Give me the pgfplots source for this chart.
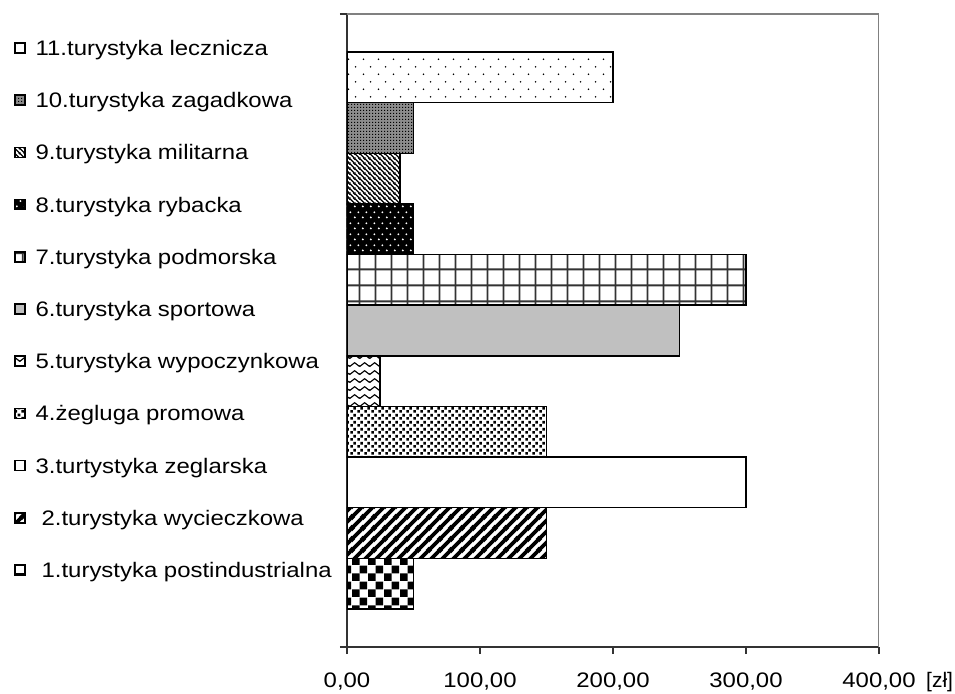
\documentclass[border=0pt]{standalone}
\usepackage{fontspec}
\setmainfont{Liberation Sans}[FakeStretch=1.14]
\newfontfamily\zlfont{Liberation Sans}
\usepackage{pgfplots}
\pgfplotsset{compat=1.18}
\usetikzlibrary{patterns.meta}

\tikzdeclarepattern{name=pChecker, type=uncolored, bottom left={(0pt,0pt)}, top right={(16pt,16pt)}, tile size={(16pt,16pt)},
  code={\fill (0pt,0pt) rectangle (8pt,8pt); \fill (8pt,8pt) rectangle (16pt,16pt);}}
\tikzdeclarepattern{name=pNEThick, type=uncolored, bottom left={(0pt,0pt)}, top right={(11pt,11pt)}, tile size={(11pt,11pt)},
  code={\draw[line width=4pt] (-2pt,-2pt)--(13pt,13pt); \draw[line width=4pt] (-2pt,9pt)--(2pt,13pt); \draw[line width=4pt] (9pt,-2pt)--(13pt,2pt);}}
\tikzdeclarepattern{name=pConfetti, type=uncolored, bottom left={(0pt,0pt)}, top right={(7pt,7pt)}, tile size={(7pt,7pt)},
  code={\fill (0.3pt,0.3pt) rectangle (3.3pt,3.3pt); \fill (3.8pt,3.8pt) rectangle (6.8pt,6.8pt);}}
\tikzdeclarepattern{name=pZigzag, type=uncolored, bottom left={(0pt,0pt)}, top right={(10pt,7.5pt)}, tile size={(10pt,7.5pt)},
  code={\draw[line width=1.2pt] (-5pt,5.6pt)--(0pt,1.8pt)--(5pt,5.6pt)--(10pt,1.8pt)--(15pt,5.6pt);}}
\tikzdeclarepattern{name=pGrid, type=uncolored, bottom left={(0pt,0pt)}, top right={(16pt,16pt)}, tile size={(16pt,16pt)},
  code={\draw[line width=2pt] (8pt,-1pt)--(8pt,17pt); \draw[line width=2pt] (-1pt,8pt)--(17pt,8pt);}}
\tikzdeclarepattern{name=pDotsDense, type=uncolored, bottom left={(0pt,0pt)}, top right={(7.5pt,11pt)}, tile size={(7.5pt,11pt)},
  code={\fill (1.9pt,2.75pt) circle (1.1pt); \fill (5.65pt,8.25pt) circle (1.1pt);}}
\tikzdeclarepattern{name=pNWThin, type=uncolored, bottom left={(0pt,0pt)}, top right={(5pt,5pt)}, tile size={(5pt,5pt)},
  code={\draw[line width=1.3pt] (-1pt,6pt)--(6pt,-1pt); \draw[line width=1.3pt] (-1pt,1pt)--(1pt,-1pt); \draw[line width=1.3pt] (4pt,6pt)--(6pt,4pt);}}
\tikzdeclarepattern{name=pFine, type=uncolored, bottom left={(0pt,0pt)}, top right={(3pt,3pt)}, tile size={(3pt,3pt)},
  code={\fill (0pt,0pt) rectangle (1.5pt,1.5pt);}}
\tikzdeclarepattern{name=pSparse, type=uncolored, bottom left={(0pt,0pt)}, top right={(15pt,15.4pt)}, tile size={(15pt,15.4pt)},
  code={\fill (3.75pt,3.85pt) circle (0.9pt); \fill (11.25pt,11.55pt) circle (0.9pt);}}

\pgfplotsset{
  mybar/.style={xbar, bar width=1, bar shift=0pt, draw=black, line width=1.5pt},
}

\begin{document}
\begin{tikzpicture}
\path[use as bounding box] (-347pt,-46pt) rectangle (608pt,647pt);
\begin{axis}[
  width=532pt, height=633pt, scale only axis,
  at={(0pt,0pt)}, anchor=south west,
  xbar,
  xmin=0, xmax=400, ymin=-0.25, ymax=12.25,
  axis x line*=bottom, axis y line*=left,
  axis line style={black!80, line width=1.6pt},
  xtick={0,100,200,300,400},
  ytick={-0.25,12.25}, yticklabels={},
  tick align=outside, major tick length=7pt,
  tick style={black!80, line width=1.2pt},
  xticklabel style={font=\fontsize{21pt}{25pt}\selectfont, anchor=base, inner sep=0pt, yshift=-33pt},
  xticklabel={\pgfmathprintnumber[fixed, fixed zerofill, precision=2, use comma, 1000 sep={}, assume math mode=true]{\tick}},
  xlabel={[zł]},
  xlabel style={at={(axis description cs:1,0)}, anchor=base west, xshift=47pt, yshift=-40pt, inner sep=0pt, font=\zlfont\fontsize{21pt}{25pt}\selectfont},
  reverse legend,
  legend image code/.code={\draw[#1, line width=1.6pt] (0.5pt,2.5pt) rectangle (10.5pt,12.5pt);},
  legend style={at={(axis description cs:-0.6259,0.958)}, anchor=north west, draw=none, fill=none,
    inner sep=0pt, outer sep=0pt, row sep=33.2pt, column sep=10pt,
    font=\fontsize{21pt}{25pt}\selectfont,
    nodes={inner sep=0pt, text height=15pt, text depth=4pt, anchor=base west}},
  legend cell align=left,
]
\addplot[mybar, fill=white, postaction={pattern=pChecker}] coordinates {(50,1)};
\addlegendentry{\hspace{6pt}1.turystyka postindustrialna}
\addplot[mybar, fill=white, postaction={pattern=pNEThick}] coordinates {(150,2)};
\addlegendentry{\hspace{6pt}2.turystyka wycieczkowa}
\addplot[mybar, fill=white] coordinates {(300,3)};
\addlegendentry{3.turtystyka zeglarska}
\addplot[mybar, fill=white, postaction={pattern=pConfetti}] coordinates {(150,4)};
\addlegendentry{4.żegluga promowa}
\addplot[mybar, fill=white, postaction={pattern=pZigzag}] coordinates {(25,5)};
\addlegendentry{5.turystyka wypoczynkowa}
\addplot[mybar, fill={rgb,255:red,192;green,192;blue,192}] coordinates {(250,6)};
\addlegendentry{6.turystyka sportowa}
\addplot[mybar, fill=white, postaction={pattern=pGrid, pattern color=black!80}] coordinates {(300,7)};
\addlegendentry{7.turystyka podmorska}
\addplot[mybar, fill=black, postaction={pattern=pDotsDense, pattern color=white}] coordinates {(50,8)};
\addlegendentry{8.turystyka rybacka}
\addplot[mybar, fill=white, postaction={pattern=pNWThin}] coordinates {(40,9)};
\addlegendentry{9.turystyka militarna}
\addplot[mybar, fill=black!45, postaction={pattern=pFine}] coordinates {(50,10)};
\addlegendentry{10.turystyka zagadkowa}
\addplot[mybar, fill=white, postaction={pattern=pSparse}] coordinates {(200,11)};
\addlegendentry{11.turystyka lecznicza}
\draw[black!50, line width=1.6pt] (rel axis cs:0,1) -- (rel axis cs:1,1) -- (rel axis cs:1,0);
\end{axis}
\end{tikzpicture}
\end{document}
